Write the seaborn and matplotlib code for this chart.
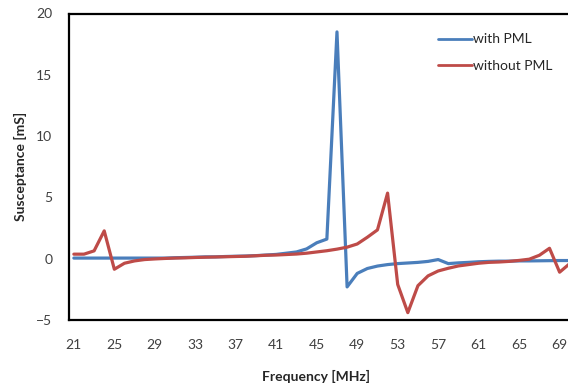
import numpy as np
import pandas as pd
import matplotlib
matplotlib.use("Agg")
import matplotlib.pyplot as plt
import seaborn as sns

# data
freq = list(range(21, 71))
with_pml = [0.05, 0.05, 0.05, 0.05, 0.05, 0.05, 0.05, 0.05, 0.05, 0.05,
            0.08, 0.1, 0.12, 0.15, 0.15, 0.18, 0.2, 0.22, 0.25, 0.3,
            0.35, 0.45, 0.55, 0.8, 1.3, 1.6, 18.5, -2.3, -1.2, -0.8,
            -0.6, -0.48, -0.4, -0.35, -0.3, -0.22, -0.07, -0.4, -0.34, -0.3,
            -0.25, -0.22, -0.2, -0.2, -0.18, -0.18, -0.17, -0.16, -0.15, -0.15]
without_pml = [0.37, 0.37, 0.64, 2.27, -0.86, -0.37, -0.18, -0.07, -0.02, 0.02,
               0.05, 0.07, 0.1, 0.12, 0.14, 0.16, 0.18, 0.2, 0.24, 0.28,
               0.3, 0.34, 0.38, 0.45, 0.55, 0.65, 0.78, 0.94, 1.2, 1.75,
               2.35, 5.35, -2.1, -4.4, -2.2, -1.4, -1.0, -0.78, -0.59, -0.48,
               -0.37, -0.3, -0.27, -0.22, -0.14, -0.04, 0.28, 0.85, -1.1, -0.4]
series = ["with PML", "without PML"]
colors = ["#4A7EBB", "#BE4B48"]
xlabels = list(range(21, 70, 4))

df = pd.DataFrame({
    "Frequency": freq * 2,
    "Susceptance": with_pml + without_pml,
    "Series": [series[0]] * len(freq) + [series[1]] * len(freq),
})

sns.set_style("white")
plt.rcParams["font.family"] = ["Lato", "DejaVu Sans"]

fig = plt.figure(figsize=(5.68, 3.85), dpi=100)
ax = fig.add_axes([68.8 / 568, 65 / 385, 506 / 568, 306.5 / 385])

sns.lineplot(data=df, x="Frequency", y="Susceptance", hue="Series",
             palette=colors, linewidth=2.3, ax=ax)

ax.set_xlim(20.5, 70.5)
ax.set_ylim(-5, 20)
ax.set_xticks(xlabels)
ax.set_xticks(np.arange(22.5, 70.6, 2), minor=True)
ax.set_yticks(range(-5, 21, 5))
ax.set_yticks(range(-5, 21), minor=True)
ax.tick_params(axis="x", which="major", length=0, pad=14, labelsize=10, labelcolor="#404040")
ax.tick_params(axis="x", which="minor", direction="in", length=3, width=1.5, color="black")
ax.tick_params(axis="y", which="major", direction="in", length=3, width=1.5, pad=12,
               labelsize=10, labelcolor="#404040", color="black")
ax.tick_params(axis="y", which="minor", direction="in", length=3, width=1.5, color="black")

for side in ["left", "bottom", "top"]:
    ax.spines[side].set_color("black")
    ax.spines[side].set_linewidth(1.6)
ax.spines["right"].set_visible(False)

ax.set_xlabel("Frequency [MHz]", fontsize=10, fontweight="bold", color="#262626")
ax.set_ylabel("Susceptance [mS]", fontsize=10, fontweight="bold", color="#262626")
ax.xaxis.set_label_coords((316 - 68.8) / 506, -(370 - 320) / 306.5)
ax.yaxis.set_label_coords(-(68.8 - 27) / 506, 0.5)

leg = ax.legend(loc="upper left", bbox_to_anchor=(0.73, 0.935), frameon=False,
                fontsize=10, handlelength=2.4, handletextpad=0.1,
                labelspacing=1.05, borderpad=0, borderaxespad=0)
for line in leg.get_lines():
    line.set_linewidth(2)
for t in leg.get_texts():
    t.set_color("#262626")

fig.savefig("out.png", dpi=100)
